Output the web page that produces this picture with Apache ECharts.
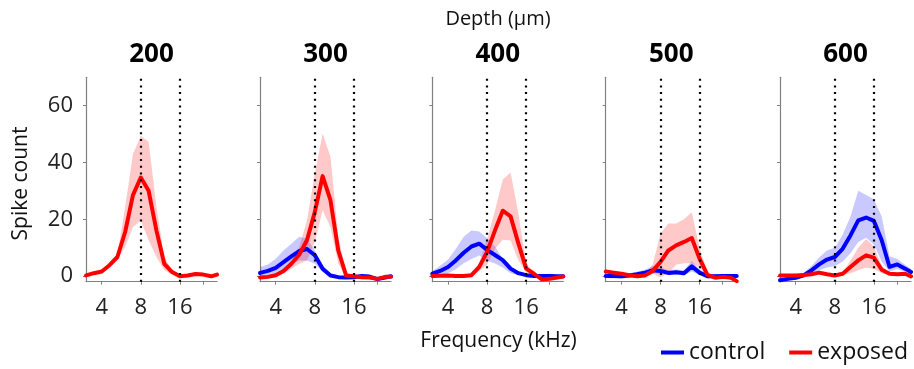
<!DOCTYPE html>
<html><head><meta charset="utf-8">
<script src="https://cdn.jsdelivr.net/npm/echarts@6/dist/echarts.min.js"></script>
<style>html,body{margin:0;padding:0;background:#fff}#c{width:914px;height:369px}</style>
</head><body><div id="c"></div>
<script>
// ---- data ----
const freqs = [3.03, 3.48, 4.0, 4.59, 5.28, 6.06, 6.96, 8.0, 9.19, 10.56, 12.13, 13.93, 16.0, 18.38, 21.11, 24.25, 27.86, 30.9];
const depths = ['200', '300', '400', '500', '600'];
const markers = [8, 16];
const xTicks = [4, 8, 16, 24];
const xLabels = [4, 8, 16];
const yTicks = [0, 20, 40, 60];

const exp200   = [0.2, 1.0, 1.6, 3.8, 6.7, 15.5, 28.5, 34.7, 30.0, 16.0, 4.3, 1.4, -0.1, 0.2, 0.7, 0.5, -0.1, 0.5];
const exp200Lo = [0, 0.5, 1.1, 3.0, 5.8, 10.2, 17.3, 19.6, 12.6, 6.7, 2.0, 0.6, -0.5, -0.3, 0.2, 0, -0.6, 0];
const exp200Hi = [0.4, 1.5, 2.1, 4.6, 7.6, 24.3, 43.0, 49.3, 47.3, 24.3, 6.7, 2.2, 0.3, 0.7, 1.2, 1.0, 0.4, 1.0];

const ctl300   = [1.1, 1.8, 2.9, 4.9, 6.9, 8.8, 9.5, 7.3, 2.6, 0.2, -0.4, -0.5, -0.4, 0, -0.2, -1.1, -0.5, -0.1];
const ctl300Lo = [-0.4, 0.2, 0.8, 2.6, 4.3, 5.5, 5.5, 4.3, 1.4, -0.3, -0.8, -0.9, -0.8, -0.4, -0.6, -1.5, -0.9, -0.5];
const ctl300Hi = [3.2, 4.1, 6.1, 9.0, 11.4, 13.8, 13.2, 9.0, 3.8, 0.8, 0, -0.1, 0, 0.4, 0.2, -0.7, -0.1, 0.3];
const exp300   = [-0.5, -0.3, 0.3, 1.8, 4.3, 7.5, 12.6, 22.5, 35.2, 26.7, 9.0, 0.2, -0.1, -0.4, -0.5, -1.0, -0.3, -0.3];
const exp300Lo = [-1.0, -0.8, -0.2, 1.0, 2.6, 4.3, 5.5, 12.0, 23.2, 17.3, 4.3, -0.3, -0.5, -0.8, -0.9, -1.4, -0.7, -0.7];
const exp300Hi = [0, 0.2, 0.8, 2.6, 5.5, 10.2, 19.6, 36.0, 50.2, 42.0, 13.8, 1.2, 0.3, 0, -0.1, -0.6, 0.1, 0.1];

const ctl400   = [0.8, 1.8, 3.2, 5.5, 8.2, 10.4, 11.4, 9.2, 7.4, 5.6, 2.6, 1.0, 0.3, 0, 0, 0, -0.1, -0.1];
const ctl400Lo = [-0.2, 0.3, 1.0, 2.4, 4.5, 6.0, 7.2, 5.5, 4.4, 3.0, 1.0, 0.3, -0.1, -0.4, -0.4, -0.4, -0.5, -0.5];
const ctl400Hi = [1.8, 3.6, 5.8, 9.5, 13.8, 16.0, 15.7, 13.3, 10.5, 6.0, 3.4, 1.6, 0.6, 0.4, 0.4, 0.4, 0.3, 0.3];
const exp400   = [0, 0.1, 0.2, 0, 0, 0.3, 3.2, 8.5, 16.0, 23.0, 21.0, 11.5, 2.6, 0.8, -1.2, -1.0, -0.5, -0.2];
const exp400Lo = [-0.4, -0.3, -0.2, -0.4, -0.4, -0.1, 1.8, 4.0, 9.5, 12.8, 12.5, 5.5, 1.2, 0.3, -1.6, -1.4, -0.9, -0.6];
const exp400Hi = [0.4, 0.5, 0.6, 0.4, 0.4, 0.7, 4.5, 13.0, 23.0, 34.0, 36.5, 22.0, 4.5, 1.4, -0.8, -0.6, -0.1, 0.2];

const ctl500   = [0, 0, -0.1, 0.2, 0.6, 1.2, 2.0, 1.8, 1.1, 1.3, 1.0, 3.4, 1.2, -0.1, -0.1, 0, 0, 0];
const ctl500Lo = [-0.8, -0.8, -0.9, -0.6, -0.2, 0.4, 1.0, 0.8, 0.3, 0.5, 0.2, 1.6, 0.3, -0.8, -0.8, -0.7, -0.7, -0.7];
const ctl500Hi = [0.8, 0.8, 0.7, 1.0, 1.5, 2.2, 3.5, 3.0, 2.0, 2.3, 2.0, 5.3, 2.2, 0.6, 0.6, 0.7, 0.7, 0.7];
const exp500   = [1.6, 1.2, 0.8, 0.3, -0.1, 0.2, 1.8, 5.0, 9.0, 10.8, 12.0, 13.4, 6.1, 0.4, -0.6, -0.3, -0.6, -1.8];
const exp500Lo = [1.1, 0.7, 0.3, -0.2, -0.6, -0.3, 0.8, -0.5, 1.0, 4.0, 4.5, 4.5, 3.0, 0, -1.0, -0.7, -1.0, -2.0];
const exp500Hi = [2.1, 1.7, 1.3, 0.8, 0.4, 0.7, 4.0, 15.0, 18.5, 18.5, 20.0, 22.5, 10.0, 1.2, -0.2, 0.1, -0.2, -1.4];

const ctl600   = [-1.5, -1.0, -0.6, 0.2, 2.0, 4.1, 5.8, 6.7, 9.6, 14.3, 19.6, 20.6, 19.4, 12.6, 3.2, 4.1, 2.6, 1.4];
const ctl600Lo = [-2.0, -1.5, -1.2, -0.5, 0.5, 2.0, 3.0, 3.5, 5.0, 8.0, 12.0, 13.5, 11.0, 5.0, 1.5, 2.5, 1.5, 0.5];
const ctl600Hi = [-1.0, -0.5, 0, 1.0, 3.5, 6.5, 9.0, 10.0, 14.5, 21.0, 30.0, 28.5, 27.0, 21.0, 7.0, 6.0, 4.0, 2.5];
const exp600   = [0.2, 0.2, 0.2, 0.4, 0.6, 1.2, 0.6, 0.2, 0.8, 3.2, 5.5, 7.3, 6.5, 2.2, 0.8, 0.6, 0.8, -0.1];
const exp600Lo = [-0.2, -0.2, -0.2, 0, 0.2, 0.8, 0.2, -0.2, 0.3, 1.0, 2.0, 3.0, 2.5, 1.0, 0.3, 0.2, 0.4, -0.5];
const exp600Hi = [0.6, 0.6, 0.6, 0.8, 1.0, 1.6, 1.0, 0.6, 1.3, 5.5, 10.0, 13.0, 10.5, 3.5, 1.3, 1.0, 1.2, 0.3];

// ---- layout ----
const FONT = 'Open Sans';
const gridLefts = [86, 260, 432.3, 605.7, 780];
const gridW = 131, gridTop = 77.3, gridH = 204.4;
const panels = [
  { ctl: null,   ctlLo: null,     ctlHi: null,     exp: exp200, expLo: exp200Lo, expHi: exp200Hi },
  { ctl: ctl300, ctlLo: ctl300Lo, ctlHi: ctl300Hi, exp: exp300, expLo: exp300Lo, expHi: exp300Hi },
  { ctl: ctl400, ctlLo: ctl400Lo, ctlHi: ctl400Hi, exp: exp400, expLo: exp400Lo, expHi: exp400Hi },
  { ctl: ctl500, ctlLo: ctl500Lo, ctlHi: ctl500Hi, exp: exp500, expLo: exp500Lo, expHi: exp500Hi },
  { ctl: ctl600, ctlLo: ctl600Lo, ctlHi: ctl600Hi, exp: exp600, expLo: exp600Lo, expHi: exp600Hi }
];
const BLUE = '#0000ff', RED = '#ff0000';
const axisGray = '#808080';

function band(gi, lo, hi, fill, z) {
  return {
    type: 'custom', xAxisIndex: gi, yAxisIndex: gi, z: z, silent: true,
    data: freqs.map((f, i) => [f, lo[i], hi[i]]),
    encode: { x: 0, y: [1, 2] },
    renderItem: function (params, api) {
      if (params.dataIndex !== 0) return;
      const pts = [];
      for (let i = 0; i < freqs.length; i++) pts.push(api.coord([freqs[i], hi[i]]));
      for (let i = freqs.length - 1; i >= 0; i--) pts.push(api.coord([freqs[i], lo[i]]));
      return { type: 'polygon', shape: { points: pts }, style: { fill: fill } };
    }
  };
}
function line(gi, name, vals, color, z) {
  return {
    type: 'line', name: name, xAxisIndex: gi, yAxisIndex: gi, z: z,
    data: freqs.map((f, i) => [f, vals[i]]),
    showSymbol: false, symbol: 'none', smooth: false,
    itemStyle: { color: color },
    lineStyle: { color: color, width: 4, join: 'round', cap: 'round' }
  };
}

const grids = [], xAxes = [], yAxes = [], series = [], graphics = [];
panels.forEach((p, gi) => {
  grids.push({ left: gridLefts[gi], top: gridTop, width: gridW, height: gridH });
  xAxes.push({
    type: 'log', logBase: 2, gridIndex: gi, min: 3.026, max: 30.9,
    axisLine: { show: true, onZero: false, lineStyle: { color: axisGray, width: 1.2 } },
    axisTick: { show: true, customValues: xTicks, length: 3, lineStyle: { color: axisGray } },
    axisLabel: { show: true, customValues: xLabels, margin: 15, fontFamily: FONT, fontSize: 22, color: '#222' },
    splitLine: { show: false }, minorTick: { show: false }
  });
  yAxes.push({
    type: 'value', gridIndex: gi, min: -2, max: 70,
    axisLine: { show: true, onZero: false, lineStyle: { color: axisGray, width: 1.2 } },
    axisTick: { show: true, customValues: yTicks, length: 3, lineStyle: { color: axisGray } },
    axisLabel: { show: gi === 0, customValues: yTicks, margin: 13, fontFamily: FONT, fontSize: 22, color: '#222' },
    splitLine: { show: false }
  });
  if (p.ctl) series.push(band(gi, p.ctlLo, p.ctlHi, 'rgba(0,0,255,0.21)', 1));
  series.push(band(gi, p.expLo, p.expHi, 'rgba(255,0,0,0.21)', 1));
  if (p.ctl) series.push(line(gi, 'control', p.ctl, BLUE, 3));
  series.push(line(gi, 'exposed', p.exp, RED, 4));
  series.push({
    type: 'line', xAxisIndex: gi, yAxisIndex: gi, z: 6, data: [], silent: true,
    markLine: {
      silent: true, symbol: ['none', 'none'], label: { show: false },
      lineStyle: { color: '#000', type: [2, 4.7], width: 2.2 },
      emphasis: { disabled: true },
      data: markers.map(v => ({ xAxis: v }))
    }
  });
  graphics.push({
    type: 'text', x: gridLefts[gi] + gridW / 2, y: 55,
    style: { text: depths[gi], font: 'bold 26px "' + FONT + '"', fill: '#000', align: 'center', verticalAlign: 'middle' }
  });
});

graphics.push({
  type: 'text', x: 498, y: 19,
  style: { text: 'Depth (\u00b5m)', font: '20px "' + FONT + '"', fill: '#111', align: 'center', verticalAlign: 'middle' }
});
graphics.push({
  type: 'text', x: 498.5, y: 341,
  style: { text: 'Frequency (kHz)', font: '21px "' + FONT + '"', fill: '#111', align: 'center', verticalAlign: 'middle' }
});
graphics.push({
  type: 'text', x: 21, y: 183.5, rotation: Math.PI / 2,
  style: { text: 'Spike count', font: '21px "' + FONT + '"', fill: '#111', align: 'center', verticalAlign: 'middle' }
});

const chart = echarts.init(document.getElementById('c'), null, { renderer: 'canvas' });
chart.setOption({
  animation: false,
  backgroundColor: '#fff',
  grid: grids, xAxis: xAxes, yAxis: yAxes, series: series,
  graphic: graphics,
  legend: {
    data: ['control', 'exposed'], left: 661, top: 341, padding: 0,
    icon: 'rect', itemWidth: 23, itemHeight: 4, itemGap: 24,
    textStyle: { fontFamily: FONT, fontSize: 23, color: '#111' },
    selectedMode: false
  }
});
</script></body></html>
